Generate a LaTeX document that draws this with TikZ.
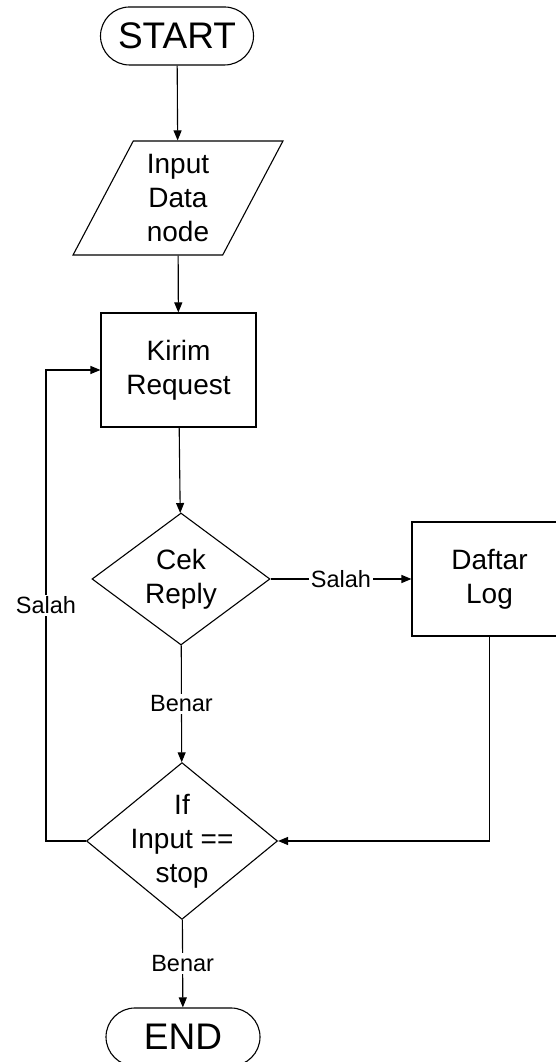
\documentclass[tikz,border=0pt]{standalone}
\usepackage{fontspec}
\setmainfont{Liberation Sans}
\usepackage{tikz}
\usetikzlibrary{arrows.meta,shapes.geometric,shapes.misc}

\begin{document}
\begin{tikzpicture}[x=1pt,y=1pt,>={Triangle[length=10pt,width=8pt]},line width=1.1pt,
    ujung/.style={draw,rounded rectangle,minimum width=153pt,minimum height=58pt,inner sep=0pt,font=\fontsize{37}{44}\selectfont},
    masukan/.style={draw,trapezium,trapezium left angle=64,trapezium right angle=116,trapezium stretches=true,
      minimum width=210pt,minimum height=114pt,inner sep=2pt,align=center,font=\fontsize{28}{34}\selectfont},
    proses/.style={draw,rectangle,minimum width=155pt,minimum height=114pt,align=center,font=\fontsize{28}{34}\selectfont},
    keputusan/.style={draw,diamond,minimum width=178pt,minimum height=132pt,inner sep=0pt,align=center,font=\fontsize{28}{34}\selectfont},
    ket/.style={fill=white,inner sep=2pt,font=\fontsize{23.5}{28}\selectfont}]
  \useasboundingbox (0,0) rectangle (555,1062);
  \node[ujung] (start) at (177,1026) {START};
  \node[masukan] (input) at (178,864) {Input\\Data\\node};
  \node[proses] (kirim) at (178.5,692) {Kirim\\Request};
  \node[keputusan] (cek) at (181,483) {Cek\\Reply};
  \node[proses] (daftar) at (489.5,483) {Daftar\\Log};
  \node[keputusan,minimum width=191pt,minimum height=141pt,inner sep=-10pt] (ifstop) at (182,221) {If\\Input ==\\stop};
  \node[ujung,minimum width=154pt] (end) at (183,25) {END};
  \coordinate (kiri) at (46,0);
  \draw[->] (start) -- (input);
  \draw[->] (input) -- (kirim);
  \draw[->] (kirim) -- (cek);
  \draw[->] (cek) -- node[ket]{Salah} (daftar);
  \draw[->] (cek) -- node[ket]{Benar} (ifstop);
  \draw[->] (daftar.south) |- (ifstop.east);
  \draw[->] (ifstop.west) -- (ifstop.west -| kiri) -- node[ket]{Salah} (kirim.west -| kiri) -- (kirim.west);
  \draw[->] (ifstop) -- node[ket]{Benar} (end);
\end{tikzpicture}
\end{document}
